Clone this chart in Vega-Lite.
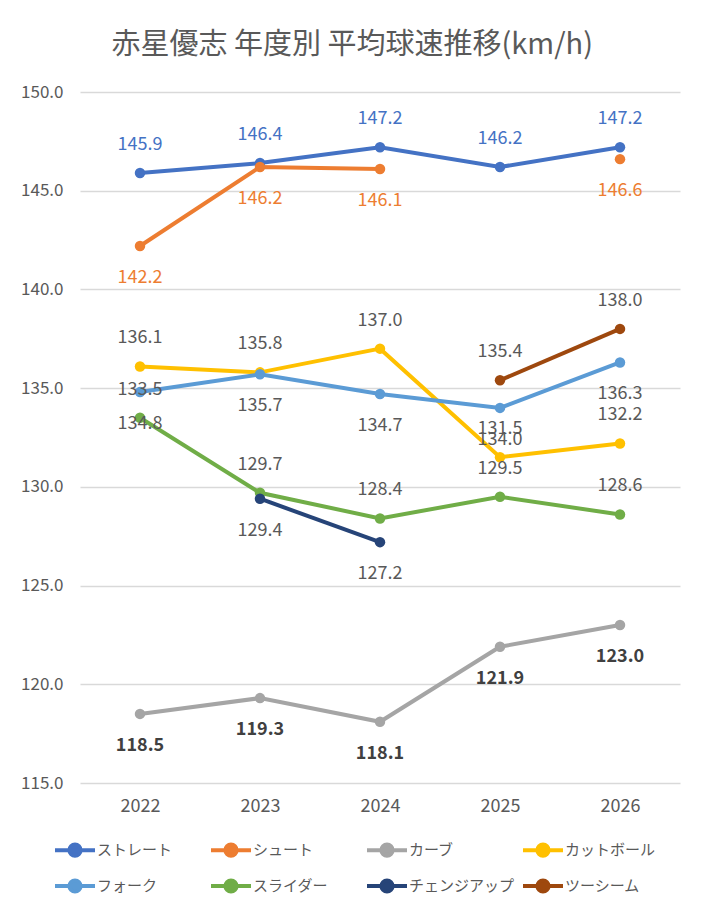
{
  "$schema": "https://vega.github.io/schema/vega-lite/v6.json",
  "width": 600,
  "height": 691,
  "padding": {"left": 20, "top": 31, "right": 20, "bottom": 10},
  "background": "white",
  "title": {
    "text": "赤星優志 年度別 平均球速推移(km/h)",
    "fontSize": 29,
    "font": "Noto Sans CJK JP",
    "fontWeight": "normal",
    "color": "#595959",
    "offset": 23,
    "anchor": "middle",
    "frame": "bounds",
    "dx": 2
  },
  "config": {
    "font": "Noto Sans CJK JP",
    "view": {"stroke": null},
    "axis": {"labelFont": "Noto Sans CJK JP", "labelColor": "#595959", "domain": false, "ticks": false}
  },
  "data": {
    "values": [
      {"year": "2022", "series": "ストレート", "value": 145.9},
      {"year": "2023", "series": "ストレート", "value": 146.4},
      {"year": "2024", "series": "ストレート", "value": 147.2},
      {"year": "2025", "series": "ストレート", "value": 146.2},
      {"year": "2026", "series": "ストレート", "value": 147.2},
      {"year": "2022", "series": "シュート", "value": 142.2},
      {"year": "2023", "series": "シュート", "value": 146.2},
      {"year": "2024", "series": "シュート", "value": 146.1},
      {"year": "2025", "series": "シュート", "value": null},
      {"year": "2026", "series": "シュート", "value": 146.6},
      {"year": "2022", "series": "カーブ", "value": 118.5},
      {"year": "2023", "series": "カーブ", "value": 119.3},
      {"year": "2024", "series": "カーブ", "value": 118.1},
      {"year": "2025", "series": "カーブ", "value": 121.9},
      {"year": "2026", "series": "カーブ", "value": 123.0},
      {"year": "2022", "series": "カットボール", "value": 136.1},
      {"year": "2023", "series": "カットボール", "value": 135.8},
      {"year": "2024", "series": "カットボール", "value": 137.0},
      {"year": "2025", "series": "カットボール", "value": 131.5},
      {"year": "2026", "series": "カットボール", "value": 132.2},
      {"year": "2022", "series": "フォーク", "value": 134.8},
      {"year": "2023", "series": "フォーク", "value": 135.7},
      {"year": "2024", "series": "フォーク", "value": 134.7},
      {"year": "2025", "series": "フォーク", "value": 134.0},
      {"year": "2026", "series": "フォーク", "value": 136.3},
      {"year": "2022", "series": "スライダー", "value": 133.5},
      {"year": "2023", "series": "スライダー", "value": 129.7},
      {"year": "2024", "series": "スライダー", "value": 128.4},
      {"year": "2025", "series": "スライダー", "value": 129.5},
      {"year": "2026", "series": "スライダー", "value": 128.6},
      {"year": "2023", "series": "チェンジアップ", "value": 129.4},
      {"year": "2024", "series": "チェンジアップ", "value": 127.2},
      {"year": "2025", "series": "ツーシーム", "value": 135.4},
      {"year": "2026", "series": "ツーシーム", "value": 138.0}
    ]
  },
  "encoding": {
    "x": {
      "field": "year", "type": "ordinal",
      "scale": {"type": "point", "padding": 0.5},
      "axis": {"title": null, "labelAngle": 0, "labelFontSize": 18, "labelPadding": 14, "grid": false}
    },
    "y": {
      "field": "value", "type": "quantitative",
      "scale": {"domain": [115, 150], "zero": false, "nice": false},
      "axis": {"title": null, "values": [115, 120, 125, 130, 135, 140, 145, 150], "format": ".1f", "labelFontSize": 17, "labelPadding": 17, "gridColor": "#d9d9d9", "gridWidth": 1.5}
    }
  },
  "layer": [
    {
      "mark": {"type": "line", "strokeWidth": 4, "invalid": "break-paths-show-domains"},
      "encoding": {
        "color": {
          "field": "series", "type": "nominal",
          "scale": {
            "domain": ["ストレート", "シュート", "カーブ", "カットボール", "フォーク", "スライダー", "チェンジアップ", "ツーシーム"],
            "range": ["#4472C4", "#ED7D31", "#A5A5A5", "#FFC000", "#5B9BD5", "#70AD47", "#264478", "#9E480E"]
          },
          "legend": {
            "title": null,
            "orient": "none",
            "legendX": -27,
            "legendY": 736,
            "direction": "horizontal",
            "columns": 4,
            "gridAlign": "all",
            "columnPadding": 0,
            "rowPadding": 0,
            "symbolType": "M-1,0L1,0M-0.28,0A0.28,0.28,0,1,1,0.28,0A0.28,0.28,0,1,1,-0.28,0Z",
            "symbolSize": 1600,
            "symbolStrokeWidth": 4,
            "labelFontSize": 15,
            "labelColor": "#595959",
            "labelOffset": 0
          }
        }
      }
    },
    {
      "mark": {"type": "point", "filled": true, "opacity": 1, "size": 110},
      "encoding": {"color": {"field": "series", "type": "nominal"}}
    },
    {
      "transform": [{"filter": {"field": "series", "oneOf": ["ストレート", "カットボール", "スライダー", "ツーシーム"]}}],
      "mark": {"type": "text", "dy": -28, "fontSize": 18, "baseline": "middle"},
      "encoding": {
        "text": {"field": "value", "type": "quantitative", "format": ".1f"},
        "color": {"condition": {"test": "datum.series === 'ストレート'", "value": "#4472C4"}, "value": "#595959"}
      }
    },
    {
      "transform": [{"filter": {"field": "series", "oneOf": ["シュート", "フォーク", "チェンジアップ"]}}],
      "mark": {"type": "text", "dy": 32, "fontSize": 18, "baseline": "middle"},
      "encoding": {
        "text": {"field": "value", "type": "quantitative", "format": ".1f"},
        "color": {"condition": {"test": "datum.series === 'シュート'", "value": "#ED7D31"}, "value": "#595959"}
      }
    },
    {
      "transform": [{"filter": {"field": "series", "equal": "カーブ"}}],
      "mark": {"type": "text", "dy": 32, "fontSize": 18, "fontWeight": "bold", "baseline": "middle", "color": "#404040"},
      "encoding": {
        "text": {"field": "value", "type": "quantitative", "format": ".1f"}
      }
    }
  ]
}
